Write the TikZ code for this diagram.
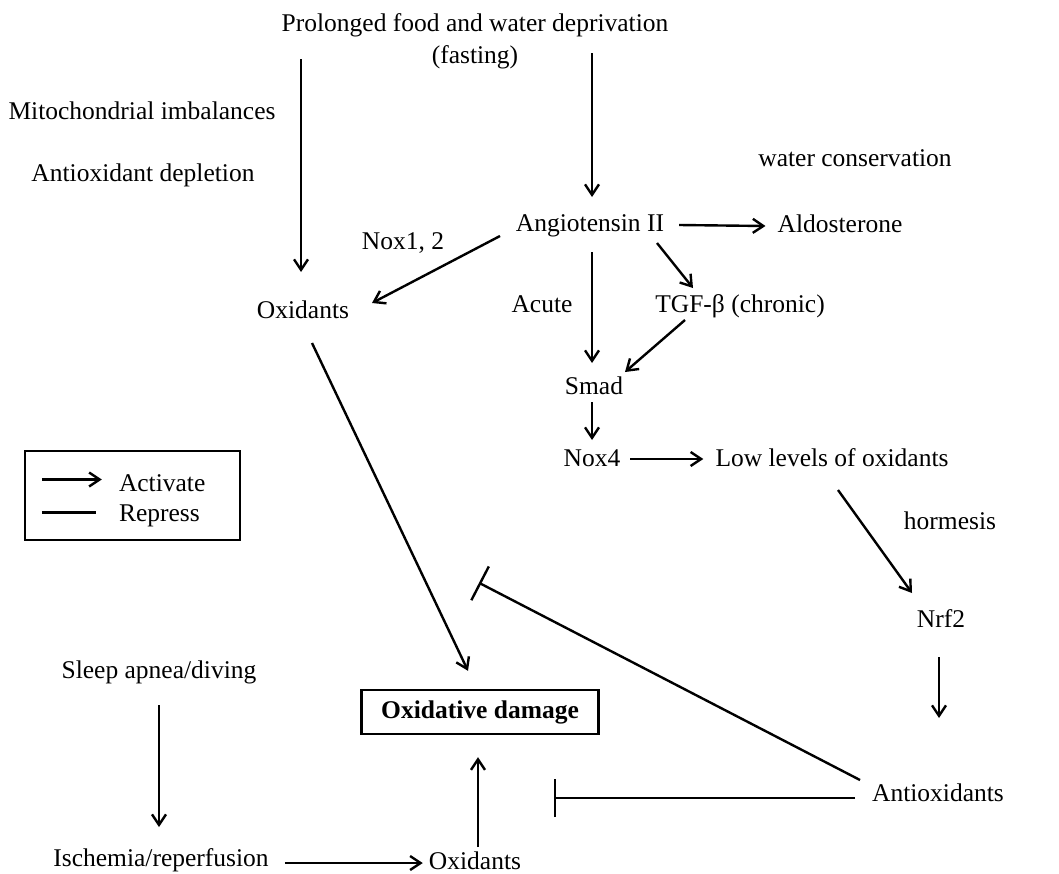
\documentclass[tikz,border=0pt]{standalone}
\usepackage{fontspec}
\setmainfont{Liberation Serif}
\usetikzlibrary{arrows.meta,calc}
\begin{document}
\begin{tikzpicture}[x=1pt,y=-1pt,
  lbl/.style={inner sep=0pt, font=\fontsize{25.5}{32}\selectfont, text height=18pt, text depth=6pt},
  arr/.style={line width=2.4pt, -{Straight Barb[length=10.5pt,width=14pt,line width=2.4pt]}},
  inh/.style={line width=2.4pt, -{Bar[width=38pt,line width=2.4pt]}},
  frame/.style={draw, line width=2.4pt, inner sep=0pt}
]
\useasboundingbox (0,0) rectangle (1059,873);

% nodes
\node[lbl] (pro1) at (475,25) {Prolonged food and water deprivation};
\node[lbl] (pro2) at (475,57) {(fasting)};
\node[lbl] (mito) at (142,113) {Mitochondrial imbalances};
\node[lbl] (antidep) at (143,175) {Antioxidant depletion};
\node[lbl] (water) at (855,160) {water conservation};
\node[lbl] (angio) at (590,225) {Angiotensin II};
\node[lbl] (aldo) at (840,226) {Aldosterone};
\node[lbl] (nox12) at (403,243) {Nox1, 2};
\node[lbl] (oxL) at (303,312) {Oxidants};
\node[lbl] (acute) at (542,306) {Acute};
\node[lbl] (tgf) at (740,306) {TGF-β (chronic)};
\node[lbl] (smad) at (594,388) {Smad};
\node[lbl] (nox4) at (592,460) {Nox4};
\node[lbl] (low) at (832,460) {Low levels of oxidants};
\node[lbl] (horm) at (950,523) {hormesis};
\node[lbl] (nrf2) at (941,621) {Nrf2};
\node[lbl, frame, minimum width=237pt, minimum height=44pt] (box) at (480,712) {\textbf{Oxidative damage}};
\node[lbl] (antiox) at (938,795) {Antioxidants};
\node[lbl] (sleep) at (159,672) {Sleep apnea/diving};
\node[lbl] (isch) at (161,860) {Ischemia/reperfusion};
\node[lbl] (oxB) at (475,863) {Oxidants};

% legend
\node[frame, minimum width=215pt, minimum height=89pt] (leg) at (132.5,495.5) {};
\node[lbl, anchor=west] (act) at ($(leg.west)+(95,-10)$) {Activate};
\node[lbl, anchor=west] (rep) at ($(leg.west)+(95,20)$) {Repress};
\draw[arr] ($(act.west)+(-77,-6)$) -- ($(act.west)+(-17,-6)$);
\draw[line width=2.4pt] ($(rep.west)+(-77,-3)$) -- ($(rep.west)+(-23,-3)$);

% connectors
\coordinate (c1) at (301,59);
\draw[arr] (c1) -- ($(oxL)+(-2,-40)$);
\coordinate (c2) at (592,53);
\draw[arr] (c2) -- ($(angio)+(2,-28)$);
\draw[arr] ($(angio)+(-90,11)$) -- ($(oxL)+(69,-9)$);
\draw[arr] ($(angio.east)+(15,0)$) -- ($(aldo.west)+(-12,0)$);
\draw[arr] ($(angio)+(2,27)$) -- ($(smad)+(-2,-25)$);
\draw[arr] ($(angio)+(67,18)$) -- ($(tgf)+(-47,-18)$);
\draw[arr] ($(tgf)+(-55,14)$) -- ($(smad)+(31,-16)$);
\draw[arr] ($(smad)+(-2,14)$) -- ($(nox4)+(0,-20)$);
\draw[arr] ($(nox4)+(38,-1)$) -- ($(low.west)+(-12,-1)$);
\draw[arr] ($(low)+(6,30)$) -- ($(nrf2)+(-29,-28)$);
\draw[arr] ($(nrf2)+(-2,36)$) -- ($(antiox)+(1,-77)$);
\draw[arr] ($(oxL)+(9,31)$) -- ($(box.north)+(-12,-18)$);
\draw[inh] ($(antiox)+(-78,-15)$) -- ($(box.north)+(-1,-106)$);
\draw[inh] ($(antiox)+(-83,3)$) -- ($(antiox)+(-384,3)$);
\draw[arr] ($(oxB)+(3,-16)$) -- ($(box.south)+(-2,22)$);
\draw[arr] ($(sleep)+(0,33)$) -- ($(isch)+(-2,-33)$);
\draw[arr] ($(isch.east)+(16,3)$) -- ($(oxB.west)+(-6,0)$);
\end{tikzpicture}
\end{document}
